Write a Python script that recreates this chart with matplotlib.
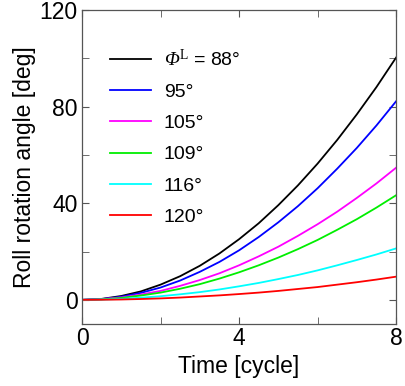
import matplotlib
matplotlib.use("Agg")
import matplotlib.pyplot as plt
from matplotlib.ticker import MultipleLocator

plt.rcParams["font.family"] = ["Liberation Sans", "DejaVu Sans"]
plt.rcParams["mathtext.fontset"] = "custom"
plt.rcParams["mathtext.rm"] = "Liberation Serif"
plt.rcParams["mathtext.it"] = "Liberation Serif:italic"
# slanted capital Greek for the angle symbol
plt.rcParams["mathtext.cal"] = "Liberation Serif:italic"

# roll angle history, sampled every half cycle
time = [0, 0.5, 1, 1.5, 2, 2.5, 3, 3.5, 4, 4.5, 5, 5.5, 6, 6.5, 7, 7.5, 8]
roll_88 = [0, 0.4, 1.6, 3.5, 6.3, 9.8, 14.1, 19.2, 25.1, 31.7, 39.2, 47.4, 56.4, 66.2, 76.8, 88.1, 100.3]
roll_95 = [0, 0.3, 1.3, 2.9, 5.1, 8.0, 11.6, 15.7, 20.5, 26.0, 32.1, 38.8, 46.2, 54.3, 62.9, 72.2, 82.2]
roll_105 = [0, 0.3, 1.0, 2.2, 3.7, 5.8, 8.2, 11.0, 14.3, 18.0, 22.0, 26.5, 31.3, 36.5, 42.2, 48.2, 54.7]
roll_109 = [0, 0.2, 0.8, 1.8, 3.0, 4.6, 6.5, 8.8, 11.4, 14.3, 17.5, 21.0, 24.8, 29.0, 33.4, 38.2, 43.3]
roll_116 = [0, 0.1, 0.4, 0.9, 1.5, 2.3, 3.2, 4.3, 5.6, 7.0, 8.6, 10.3, 12.2, 14.3, 16.5, 18.8, 21.3]
roll_120 = [0, 0.04, 0.15, 0.35, 0.6, 0.95, 1.4, 1.85, 2.4, 3.0, 3.7, 4.5, 5.3, 6.3, 7.3, 8.4, 9.6]

labels = [r"$\mathcal{\Phi}^{\mathrm{L}}$ = 88°", "95°", "105°", "109°", "116°", "120°"]
series = [roll_88, roll_95, roll_105, roll_109, roll_116, roll_120]
colors = ["black", "#0000ff", "#ff00ff", "#00ee00", "#00ffff", "#ff0000"]

fig = plt.figure(figsize=(4.05, 3.86), dpi=100)
ax = fig.add_axes([0.2025, 0.1606, 0.7755, 0.8135])

for y, c, lab in zip(series, colors, labels):
    ax.plot(time, y, color=c, lw=1.3, label=lab)

ax.set_xlim(0, 8)
ax.set_ylim(-10, 120)
ax.xaxis.set_major_locator(MultipleLocator(4))
ax.xaxis.set_minor_locator(MultipleLocator(2))
ax.yaxis.set_major_locator(MultipleLocator(40))
ax.yaxis.set_minor_locator(MultipleLocator(20))
ax.tick_params(which="both", direction="in", top=True, right=True,
               color="#555555", labelsize=16.5, length=5)
ax.tick_params(axis="x", pad=2.5)
ax.tick_params(axis="y", pad=3)
for s in ax.spines.values():
    s.set_color("#555555")
    s.set_linewidth(0.9)

ax.set_xlabel("Time [cycle]", fontsize=16.5, labelpad=3)
ax.set_ylabel("Roll rotation angle [deg]", fontsize=16.5, labelpad=3)

ax.legend(loc="upper left", bbox_to_anchor=(0.089, 0.877), borderaxespad=0,
          borderpad=0, frameon=False, fontsize=14, handlelength=2.1,
          handletextpad=0.67, labelspacing=0.7)

fig.savefig("out.png", dpi=100)
